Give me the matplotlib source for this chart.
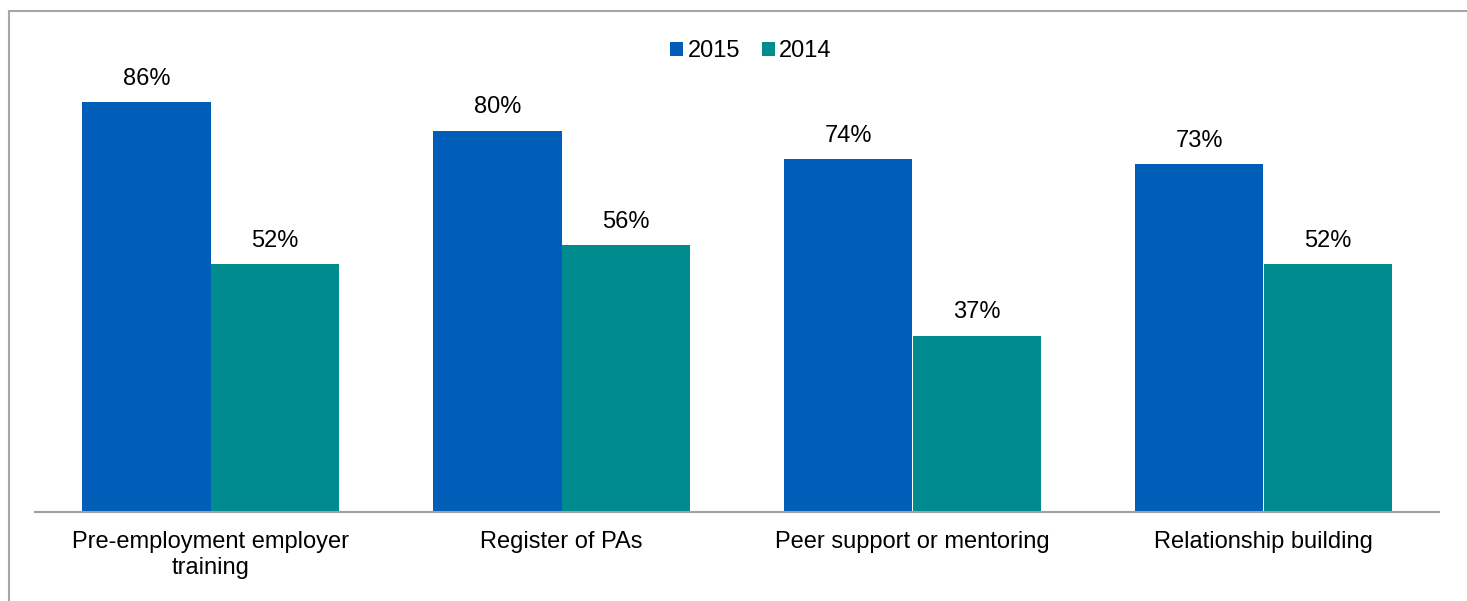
import matplotlib.pyplot as plt
import numpy as np
from matplotlib.patches import Rectangle

plt.rcParams['font.family'] = ['Liberation Sans', 'DejaVu Sans']

# Data
categories = ["Pre-employment employer\ntraining", "Register of PAs",
              "Peer support or mentoring", "Relationship building"]
series_names = ["2015", "2014"]
values_2015 = [86, 80, 74, 73]
values_2014 = [52, 56, 37, 52]

BLUE = "#005EB8"
TEAL = "#008C8F"

W, H = 1467, 601
fig = plt.figure(figsize=(W / 100, H / 100), dpi=100)

# outer frame of the chart (continues past the right and bottom edges)
fig.patches.append(Rectangle((9 / W, -0.1), 1.2, 1 - 11 / H + 0.1,
                             transform=fig.transFigure, fill=False,
                             edgecolor="#A6A6A6", linewidth=1.5))

ax = fig.add_axes([35 / W, 1 - 512 / H, (1439 - 35) / W, (512 - 35.5) / H])

x = np.arange(len(categories))
width = 0.365
bars1 = ax.bar(x - width / 2, values_2015, width, color=BLUE,
               linewidth=0, label=series_names[0])
bars2 = ax.bar(x + width / 2, values_2014, width, color=TEAL,
               linewidth=0, label=series_names[1])

for bars, vals in ((bars1, values_2015), (bars2, values_2014)):
    for bar, val in zip(bars, vals):
        ax.annotate(f"{val}%", (bar.get_x() + bar.get_width() / 2, val),
                    xytext=(0, 9), textcoords="offset points",
                    ha="center", va="bottom", fontsize=17)

ax.set_xlim(-0.5, len(categories) - 0.5)
ax.set_ylim(0, 100)
ax.set_xticks(x)
ax.set_xticklabels(categories, fontsize=17, linespacing=1.2)
ax.tick_params(axis="x", length=0, pad=14)
ax.set_yticks([])
for side in ("top", "right", "left"):
    ax.spines[side].set_visible(False)
ax.spines["bottom"].set_color("#A0A0A0")
ax.spines["bottom"].set_linewidth(1.5)
ax.patch.set_alpha(0)

ax.legend(loc="upper center", bbox_to_anchor=(0.51, 1.035), ncol=2, frameon=False,
          fontsize=17, handlelength=0.55, handleheight=0.55, handletextpad=0.2,
          columnspacing=0.9)

fig.savefig("out.png", dpi=100)
